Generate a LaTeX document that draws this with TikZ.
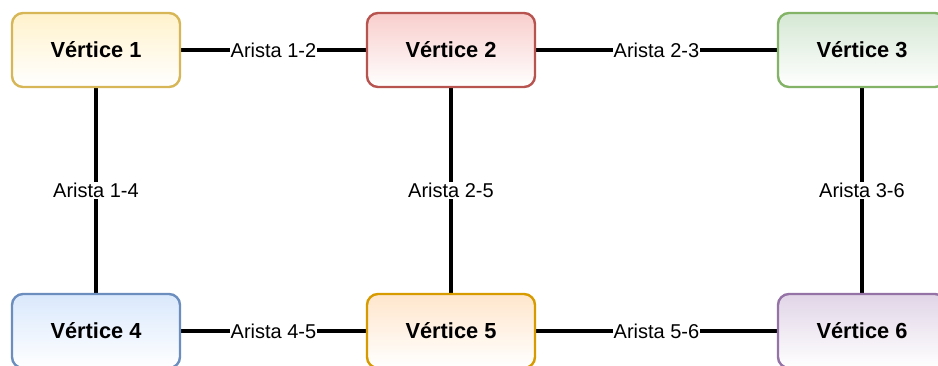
\documentclass[tikz,border=0pt]{standalone}
\usepackage{fontspec}
\setmainfont{Liberation Sans}
\usetikzlibrary{backgrounds}
\definecolor{y1}{HTML}{FFF2CC}\definecolor{y2}{HTML}{D6B656}
\definecolor{r1}{HTML}{F8CECC}\definecolor{r2}{HTML}{B85450}
\definecolor{g1}{HTML}{D5E8D4}\definecolor{g2}{HTML}{82B366}
\definecolor{b1}{HTML}{DAE8FC}\definecolor{b2}{HTML}{6C8EBF}
\definecolor{o1}{HTML}{FFE6CC}\definecolor{o2}{HTML}{D79B00}
\definecolor{p1}{HTML}{E1D5E7}\definecolor{p2}{HTML}{9673A6}
\begin{document}
\begin{tikzpicture}[x=1pt,y=-1pt,
  vertex/.style 2 args={draw=#2, top color=#1, bottom color=white,
    rounded corners=11pt, line width=2.4pt,
    minimum width=168pt, minimum height=74pt, inner sep=0pt,
    font=\fontsize{21.8}{26}\selectfont\bfseries},
  edge/.style={line width=3.4pt, black},
  elabel/.style={fill=white, inner sep=1pt, font=\fontsize{20}{24}\selectfont}]
  \useasboundingbox (0,0) rectangle (938,365);
  \clip (0,0) rectangle (938,365);

  % vertices
  \node[vertex={y1}{y2}] (v1) at (96,50)  {Vértice 1};
  \node[vertex={r1}{r2}] (v2) at (451,50) {Vértice 2};
  \node[vertex={g1}{g2}] (v3) at (862,50) {Vértice 3};
  \node[vertex={b1}{b2}] (v4) at (96,331)  {Vértice 4};
  \node[vertex={o1}{o2}] (v5) at (451,331) {Vértice 5};
  \node[vertex={p1}{p2}] (v6) at (862,331) {Vértice 6};

  % edges with their labels
  \begin{scope}[on background layer]
    \draw[edge] (v1) -- node[elabel] {Arista 1-2} (v2);
    \draw[edge] (v2) -- node[elabel] {Arista 2-3} (v3);
    \draw[edge] (v4) -- node[elabel] {Arista 4-5} (v5);
    \draw[edge] (v5) -- node[elabel] {Arista 5-6} (v6);
    \draw[edge] (v1) -- node[elabel] {Arista 1-4} (v4);
    \draw[edge] (v2) -- node[elabel] {Arista 2-5} (v5);
    \draw[edge] (v3) -- node[elabel] {Arista 3-6} (v6);
  \end{scope}
\end{tikzpicture}
\end{document}
